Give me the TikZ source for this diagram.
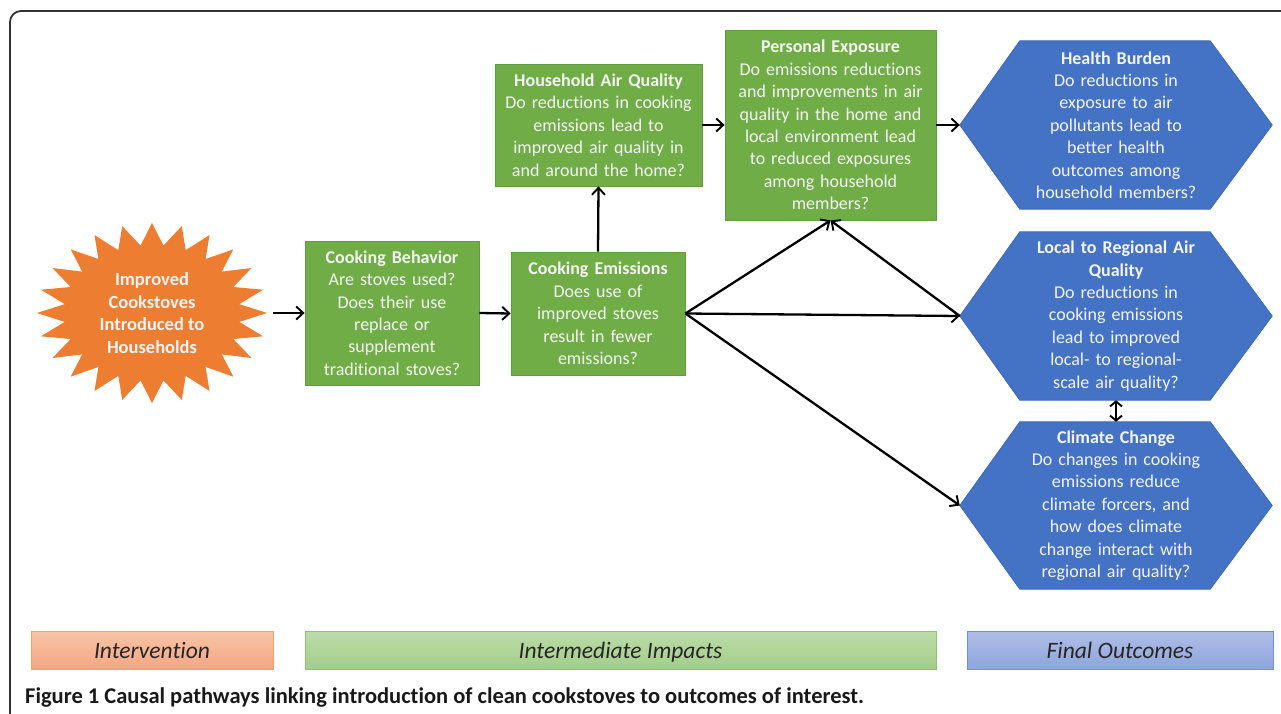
\documentclass[tikz,border=0pt]{standalone}
\usepackage{fontspec}
\setmainfont{Carlito}[Ligatures=NoCommon]
\usetikzlibrary{arrows.meta,calc,shapes.geometric,backgrounds}
\definecolor{grn}{HTML}{70AD47}
\definecolor{grnb}{HTML}{5E9C3E}
\definecolor{blu}{HTML}{4472C4}
\definecolor{blub}{HTML}{3C68B8}
\definecolor{org}{HTML}{ED7D31}
\definecolor{txt}{HTML}{F4F4F4}
\definecolor{frm}{HTML}{333333}
\definecolor{otop}{HTML}{F9C4A8}
\definecolor{obot}{HTML}{F4A683}
\definecolor{obrd}{HTML}{F2A06E}
\definecolor{gtop}{HTML}{BCDCA9}
\definecolor{gbot}{HTML}{A3CD89}
\definecolor{gbrd}{HTML}{8DC46D}
\definecolor{btop}{HTML}{B0BEE6}
\definecolor{bbot}{HTML}{8DA5DC}
\definecolor{bbrd}{HTML}{7090D6}
\begin{document}
\begin{tikzpicture}[x=1pt,y=-1pt,
  bodyfont/.style={font=\fontsize{18}{22.4}\selectfont},
  gbox/.style={bodyfont, draw=grnb, fill=grn, line width=0.8pt, text=txt, align=center, inner sep=0pt},
  hexa/.style={bodyfont, text=txt, align=center, inner sep=0pt, text width=210pt, minimum width=312pt},
  hexdraw/.style={draw=blub, fill=blu, line width=0.8pt},
  arr/.style={line width=2.3pt, -{Straight Barb[length=7pt,width=13pt,line width=1.9pt]}},
  darr/.style={line width=2.3pt, {Straight Barb[length=5pt,width=12pt,line width=1.9pt]}-{Straight Barb[length=5pt,width=12pt,line width=1.9pt]}},
  legend/.style={inner sep=0pt, line width=0.8pt, minimum height=38pt, text height=18pt, text depth=1pt,
     font=\fontsize{23.5}{26}\selectfont\itshape, text=black!85}]
\useasboundingbox (0,0) rectangle (1281,714);

% frame
\draw[frm, line width=1.8pt, rounded corners=11pt] (10,730) -- (10,11) -- (1300,11);

% starburst
\fill[org] plot[samples at={0,...,47}] ({152+(115-27*mod(\x,2))*cos(90+7.5*\x)}, {313+(90-22*mod(\x,2))*sin(90+7.5*\x)}) -- cycle;
\node[ellipse, minimum width=236pt, minimum height=180pt, inner sep=0pt, text=txt, align=center,
      font=\fontsize{18.5}{22.4}\selectfont\bfseries] (star) at (152,313)
  {Improved\\Cookstoves\\Introduced to\\Households};

% green boxes
\node[gbox, minimum width=174pt, minimum height=144pt, text width=172pt] (cb) at (392,313)
  {\textbf{Cooking Behavior}\\Are stoves used?\\Does their use\\replace or\\supplement\\traditional stoves?};
\node[gbox, minimum width=174pt, minimum height=123pt, text width=172pt] (ce) at (598,313.5)
  {\textbf{Cooking Emissions}\\Does use of\\improved stoves\\result in fewer\\emissions?};
\node[gbox, minimum width=207pt, minimum height=122pt, text width=205pt] (haq) at (598.5,125)
  {\textbf{Household Air Quality}\\Do reductions in cooking\\emissions lead to\\improved air quality in\\and around the home?};
\node[gbox, minimum width=211pt, minimum height=190pt, text width=209pt] (pe) at (830.5,125)
  {\textbf{Personal Exposure}\\Do emissions reductions\\and improvements in air\\quality in the home and\\local environment lead\\to reduced exposures\\among household\\members?};

% hexagons
\node[hexa, minimum height=168pt] (hb) at (1116,125)
  {\textbf{Health Burden}\\Do reductions in\\exposure to air\\pollutants lead to\\better health\\outcomes among\\household members?};
\node[hexa, minimum height=168pt] (laq) at (1116,316)
  {\textbf{Local to Regional Air}\\\textbf{Quality}\\Do reductions in\\cooking emissions\\lead to improved\\local- to regional-\\scale air quality?};
\node[hexa, minimum height=167pt] (cc) at (1116,505.5)
  {\textbf{Climate Change}\\Do changes in cooking\\emissions reduce\\climate forcers, and\\how does climate\\change interact with\\regional air quality?};
\begin{scope}[on background layer]
\foreach \h in {hb,laq,cc}{
  \draw[hexdraw] (\h.west) -- ($(\h.north west)+(60,0)$) -- ($(\h.north east)+(-62,0)$) -- (\h.east)
     -- ($(\h.south east)+(-62,0)$) -- ($(\h.south west)+(60,0)$) -- cycle;
}
\end{scope}

% connectors
\draw[arr, shorten <=3pt] (star.east) -- (cb.west);
\draw[arr] (cb.east) -- (ce.west);
\draw[arr] (ce.north) -- (haq.south);
\draw[arr] (haq.east) -- (pe.west);
\draw[arr] (pe.east) -- (hb.west);
\draw[arr] (ce.east) -- (pe.south);
\draw[arr] (ce.east) -- (laq.west);
\draw[arr] (ce.east) -- (cc.west);
\draw[arr] (laq.west) -- (pe.south);
\draw[darr] (laq.south) -- (cc.north);

% legend
\node[legend, draw=obrd, top color=otop, bottom color=obot, minimum width=242pt] (lint) at (152,650) {Intervention};
\node[legend, draw=gbrd, top color=gtop, bottom color=gbot, minimum width=631pt] (limp) at (620.5,650) {Intermediate Impacts};
\node[legend, draw=bbrd, top color=btop, bottom color=bbot, minimum width=306pt] (lout) at (1120,650) {Final Outcomes};

% caption
\node[anchor=west, inner sep=0pt, font=\fontsize{22.5}{26}\selectfont\bfseries, text=black!90] (cap) at (25,698)
  {Figure 1 Causal pathways linking introduction of clean cookstoves to outcomes of interest.};
\end{tikzpicture}
\end{document}
